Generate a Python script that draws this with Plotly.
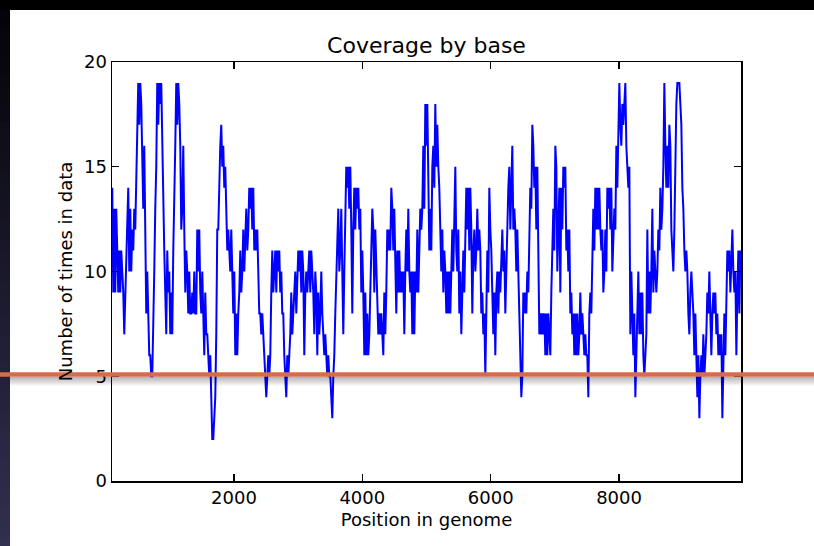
import numpy as np
import plotly.graph_objects as go

# ---------------- data ----------------
title = "Coverage by base"
x_label = "Position in genome"
y_label = "Number of times in data"
x_ticks = [2000, 4000, 6000, 8000]
y_ticks = [0, 5, 10, 15, 20]
x_range = [100, 9900]
y_range = [0, 20]
first_position = 104
last_position = 9890
threshold = 5

cov_a = [14, 9, 13, 9, 13, 10, 9, 11, 9, 11, 10, 9, 7, 9, 11, 12, 14, 10, 13, 10,
         12, 11, 13, 12, 15, 16, 19, 17, 19, 18, 16, 13, 16, 10, 8, 10, 8, 6, 6, 5,
         5, 9, 10, 13, 15, 19, 17, 19, 18, 19, 16, 12, 11, 9, 7, 11, 9, 10, 7, 9,
         7, 11, 13, 16, 19, 17, 19, 18, 16, 12, 13, 16, 12, 9, 11, 10, 8, 10, 8, 8,
         9, 8, 10, 8, 8, 12, 10, 12, 9, 8, 10, 8, 6, 9, 7, 7, 6, 5, 6, 4,
         2, 2, 3, 4, 7, 12, 12, 15, 16, 17, 15, 16, 14, 15, 13, 11, 12, 11, 10, 12,
         9, 8, 10, 6, 8, 6, 8]
cov_b = [9, 11, 9, 10, 12, 10, 12, 13, 11, 12, 14, 13, 14, 12, 14, 11, 12, 11, 12, 9,
         8, 8, 7, 8, 7, 6, 5, 4, 5, 6, 5, 6, 9, 11, 9, 10, 11, 9, 11, 10,
         11, 9, 10, 8, 8, 6, 5, 4, 6, 5, 6, 7, 9, 7, 8, 9, 10, 8, 10, 11,
         10, 11, 9, 11, 10, 6, 9, 10, 9, 10, 11, 9, 11, 10, 9, 7, 10, 9, 6, 9,
         7, 8, 10, 8, 7, 6, 7, 6, 5, 6, 5, 5, 4, 3, 5, 6, 8, 10, 12, 13,
         10, 11, 13, 9, 7, 10, 13, 15, 14, 15, 13, 15, 12, 8, 12, 14, 12, 14, 13, 14,
         12, 13, 9, 11, 9, 6, 9, 6]
cov_c = [8, 6, 7, 9, 10, 13, 12, 9, 12, 10, 8, 7, 8, 7, 8, 7, 6, 9, 7, 9,
         12, 11, 12, 11, 14, 13, 11, 13, 9, 8, 11, 9, 11, 9, 10, 9, 10, 7, 10, 12,
         10, 13, 10, 9, 10, 7, 10, 7, 10, 9, 12, 9, 11, 13, 12, 13, 16, 13, 18, 16,
         18, 13, 11, 13, 11, 15, 16, 14, 18, 15, 17, 15, 14, 12, 10, 12, 9, 11, 10, 8,
         10, 8, 10, 8, 11, 12, 10, 12, 15, 11, 10, 12, 8, 10, 7, 9, 11, 9, 13, 14,
         12, 14, 11, 14, 12, 8, 11, 12, 10, 11, 13, 11, 12, 11, 8, 9, 7, 8, 5, 9,
         11, 9, 14, 12, 11, 9, 7, 9]
cov_d = [6, 9, 10, 8, 10, 9, 11, 12, 10, 11, 8, 10, 13, 14, 15, 12, 14, 16, 12, 13,
         12, 10, 12, 9, 8, 6, 4, 5, 9, 8, 9, 8, 10, 9, 13, 14, 13, 17, 16, 14,
         15, 12, 15, 9, 7, 8, 7, 8, 7, 8, 6, 8, 6, 8, 7, 6, 9, 11, 13, 11,
         16, 15, 10, 12, 14, 9, 14, 12, 15, 14, 15, 11, 12, 10, 12, 8, 9, 7, 8, 6,
         8, 6, 8, 6, 7, 9, 7, 8, 7, 6, 7, 6, 6, 4, 8, 9, 8, 11, 13, 11,
         14, 12, 14, 12, 14, 12, 11, 12, 9, 10, 12, 10, 14, 13, 14, 12, 14, 10, 12, 13,
         12, 16, 14, 18, 19, 17]
cov_e = [16, 18, 17, 18, 19, 16, 15, 14, 15, 7, 10, 8, 6, 8, 4, 6, 9, 10, 7, 9,
         7, 9, 6, 5, 6, 7, 12, 8, 10, 8, 10, 13, 9, 11, 10, 9, 10, 12, 11, 14,
         12, 13, 15, 19, 16, 14, 16, 14, 17, 16, 12, 11, 10, 12, 16, 18, 19, 19, 19, 18,
         17, 14, 13, 11, 10, 11, 10, 8, 7, 9, 10, 9, 8, 6, 8, 6, 4, 6, 3, 5,
         6, 5, 7, 5, 6, 7, 9, 8, 10, 8, 6, 8, 9, 8, 9, 7, 8, 6, 7, 6,
         7, 3, 6, 8, 6, 8, 11, 10, 11, 9, 11, 12, 10, 9, 10, 6, 9, 11, 8, 11]

coverage = cov_a + cov_b + cov_c + cov_d + cov_e
positions = np.linspace(first_position, last_position, len(coverage))

# ---------------- layout geometry ----------------
W, H = 814, 546
ML, MR, MT, MB = 112, 73, 62, 65
PW, PH = W - ML - MR, H - MT - MB


def px_x(px):
    return (px - ML) / PW


def px_y(py):
    return (H - MB - py) / PH


FONT = "DejaVu Sans"

fig = go.Figure()
fig.add_trace(go.Scatter(
    x=positions, y=coverage, mode="lines",
    line=dict(color="#0000ff", width=2),
    hoverinfo="skip", showlegend=False,
))

shapes = []
# top black bar
shapes.append(dict(type="rect", xref="paper", yref="paper", layer="above",
                   x0=px_x(-5), x1=px_x(W + 5), y0=px_y(10), y1=px_y(-5),
                   fillcolor="#000000", line=dict(width=0)))
# left dark strip with vertical gradient
band = 16
for top in range(10, H, band):
    f = (top + band / 2 - 10) / (H - 10)
    r = int(4 + f * (50 - 4))
    g = int(3 + f * (48 - 3))
    b = int(8 + f * (80 - 8))
    shapes.append(dict(type="rect", xref="paper", yref="paper", layer="above",
                       x0=px_x(-5), x1=px_x(10), y0=px_y(top + band + 0.5), y1=px_y(top),
                       fillcolor=f"rgb({r},{g},{b})", line=dict(width=0)))
# shadow under the highlight line
for k in range(9):
    a = 0.30 * (1 - k / 9)
    shapes.append(dict(type="rect", xref="paper", yref="paper", layer="above",
                       x0=px_x(10), x1=px_x(W + 5), y0=px_y(377.8 + k), y1=px_y(376.8 + k),
                       fillcolor=f"rgba(0,0,0,{a:.3f})", line=dict(width=0)))
# highlight line at the threshold
shapes.append(dict(type="rect", xref="paper", yref="paper", layer="above",
                   x0=px_x(-5), x1=px_x(W + 5), y0=px_y(376.8), y1=px_y(372.2),
                   fillcolor="#d86b4b", line=dict(width=0)))

axis_common = dict(
    showline=True, linecolor="black", linewidth=1.5, mirror="ticks",
    ticks="inside", ticklen=7, tickwidth=1.2, tickcolor="black",
    showgrid=False, zeroline=False,
    tickfont=dict(family=FONT, size=18, color="black"),
)

fig.update_layout(
    width=W, height=H,
    margin=dict(l=ML, r=MR, t=MT, b=MB),
    paper_bgcolor="white", plot_bgcolor="white",
    title=dict(text=title, x=(ML + PW / 2) / W, xanchor="center",
               y=1 - 45 / H, yanchor="middle", yref="container",
               font=dict(family=FONT, size=22, color="black")),
    xaxis=dict(range=x_range, tickvals=x_ticks, ticktext=[str(t) for t in x_ticks],
               title=dict(text=x_label, font=dict(family=FONT, size=18, color="black"), standoff=6),
               **axis_common),
    yaxis=dict(range=y_range, tickvals=y_ticks, ticktext=[str(t) for t in y_ticks],
               title=dict(text=y_label, font=dict(family=FONT, size=18, color="black"), standoff=6),
               **axis_common),
    shapes=shapes,
    showlegend=False,
)

fig.write_html(
    "out.html",
    config={"displayModeBar": False, "staticPlot": True},
    post_script="document.body.style.margin='0px';document.body.style.padding='0px';",
)
